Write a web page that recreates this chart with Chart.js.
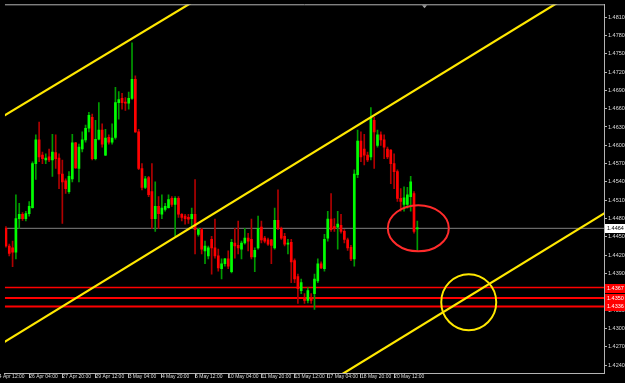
<!DOCTYPE html>
<html>
<head>
<meta charset="utf-8">
<script src="https://cdn.jsdelivr.net/npm/chart.js@4.4.1/dist/chart.umd.min.js"></script>
<style>
  html, body { margin: 0; padding: 0; background: #000; }
</style>
</head>
<body>
<canvas id="chart" width="625" height="383"></canvas>
<script>
// H4 candles, oldest first
const opens = [
  1.4464, 1.4435, 1.4432, 1.4425, 1.4480, 1.4487, 1.4480, 1.4488, 1.4498, 1.4570,
  1.4609, 1.4584, 1.4576, 1.4581, 1.4576, 1.4588, 1.4579, 1.4553, 1.4542, 1.4524,
  1.4545, 1.4604, 1.4562, 1.4594, 1.4609, 1.4628, 1.4646, 1.4578, 1.4610, 1.4625,
  1.4584, 1.4613, 1.4605, 1.4613, 1.4670, 1.4677, 1.4670, 1.4669, 1.4677, 1.4708,
  1.4622, 1.4562, 1.4531, 1.4547, 1.4524, 1.4480, 1.4500, 1.4487, 1.4495, 1.4498,
  1.4513, 1.4503, 1.4513, 1.4487, 1.4484, 1.4482, 1.4480, 1.4487, 1.4454, 1.4462,
  1.4427, 1.4419, 1.4446, 1.4432, 1.4419, 1.4398, 1.4406, 1.4414, 1.4393, 1.4440,
  1.4436, 1.4430, 1.4440, 1.4448, 1.4446, 1.4417, 1.4432, 1.4466, 1.4448, 1.4445,
  1.4445, 1.4432, 1.4477, 1.4464, 1.4451, 1.4438, 1.4441, 1.4411, 1.4385, 1.4362,
  1.4350, 1.4346, 1.4350, 1.4357, 1.4378, 1.4406, 1.4398, 1.4448, 1.4479, 1.4467,
  1.4466, 1.4469, 1.4459, 1.4445, 1.4433, 1.4414, 1.4552, 1.4607, 1.4594, 1.4584,
  1.4581, 1.4641, 1.4600, 1.4617, 1.4609, 1.4594, 1.4592, 1.4570, 1.4557, 1.4513,
  1.4503, 1.4503, 1.4516, 1.4521, 1.4463
];
const highs = [
  1.4467, 1.4438, 1.4443, 1.4519, 1.4505, 1.4490, 1.4492, 1.4508, 1.4573, 1.4617,
  1.4638, 1.4589, 1.4586, 1.4594, 1.4618, 1.4617, 1.4586, 1.4576, 1.4545, 1.4557,
  1.4618, 1.4605, 1.4602, 1.4622, 1.4633, 1.4654, 1.4651, 1.4641, 1.4670, 1.4635,
  1.4626, 1.4617, 1.4635, 1.4695, 1.4688, 1.4685, 1.4678, 1.4687, 1.4768, 1.4714,
  1.4626, 1.4570, 1.4549, 1.4549, 1.4570, 1.4540, 1.4516, 1.4519, 1.4505, 1.4519,
  1.4516, 1.4516, 1.4516, 1.4488, 1.4487, 1.4487, 1.4497, 1.4544, 1.4464, 1.4464,
  1.4443, 1.4435, 1.4451, 1.4479, 1.4430, 1.4414, 1.4415, 1.4427, 1.4446, 1.4464,
  1.4476, 1.4443, 1.4464, 1.4456, 1.4479, 1.4432, 1.4484, 1.4476, 1.4451, 1.4448,
  1.4446, 1.4497, 1.4527, 1.4466, 1.4456, 1.4446, 1.4446, 1.4414, 1.4389, 1.4381,
  1.4357, 1.4367, 1.4357, 1.4389, 1.4414, 1.4409, 1.4454, 1.4492, 1.4521, 1.4480,
  1.4492, 1.4487, 1.4462, 1.4448, 1.4436, 1.4560, 1.4625, 1.4622, 1.4618, 1.4589,
  1.4662, 1.4646, 1.4625, 1.4622, 1.4617, 1.4597, 1.4593, 1.4586, 1.4560, 1.4529,
  1.4532, 1.4531, 1.4549, 1.4524, 1.4476
];
const lows = [
  1.4433, 1.4419, 1.4401, 1.4414, 1.4464, 1.4477, 1.4476, 1.4484, 1.4497, 1.4544,
  1.4573, 1.4570, 1.4570, 1.4573, 1.4549, 1.4562, 1.4529, 1.4472, 1.4521, 1.4521,
  1.4540, 1.4562, 1.4540, 1.4589, 1.4605, 1.4622, 1.4576, 1.4576, 1.4609, 1.4597,
  1.4583, 1.4602, 1.4602, 1.4610, 1.4643, 1.4659, 1.4657, 1.4659, 1.4675, 1.4621,
  1.4560, 1.4527, 1.4529, 1.4516, 1.4464, 1.4459, 1.4464, 1.4480, 1.4492, 1.4497,
  1.4500, 1.4451, 1.4482, 1.4476, 1.4471, 1.4472, 1.4464, 1.4422, 1.4451, 1.4422,
  1.4406, 1.4414, 1.4389, 1.4415, 1.4394, 1.4381, 1.4402, 1.4398, 1.4391, 1.4415,
  1.4422, 1.4414, 1.4438, 1.4427, 1.4414, 1.4393, 1.4430, 1.4440, 1.4440, 1.4436,
  1.4406, 1.4430, 1.4462, 1.4446, 1.4435, 1.4422, 1.4375, 1.4375, 1.4341, 1.4357,
  1.4341, 1.4342, 1.4341, 1.4331, 1.4375, 1.4398, 1.4394, 1.4443, 1.4459, 1.4459,
  1.4430, 1.4456, 1.4440, 1.4428, 1.4411, 1.4402, 1.4547, 1.4573, 1.4568, 1.4573,
  1.4576, 1.4562, 1.4597, 1.4600, 1.4578, 1.4578, 1.4537, 1.4529, 1.4508, 1.4492,
  1.4492, 1.4497, 1.4492, 1.4456, 1.4427
];
const closes = [
  1.4435, 1.4423, 1.4425, 1.4480, 1.4487, 1.4480, 1.4488, 1.4500, 1.4570, 1.4609,
  1.4581, 1.4578, 1.4579, 1.4576, 1.4589, 1.4578, 1.4553, 1.4540, 1.4529, 1.4549,
  1.4604, 1.4563, 1.4597, 1.4609, 1.4628, 1.4649, 1.4578, 1.4610, 1.4625, 1.4602,
  1.4612, 1.4605, 1.4612, 1.4670, 1.4675, 1.4670, 1.4669, 1.4677, 1.4708, 1.4622,
  1.4562, 1.4531, 1.4545, 1.4519, 1.4480, 1.4500, 1.4488, 1.4497, 1.4500, 1.4511,
  1.4503, 1.4513, 1.4487, 1.4482, 1.4480, 1.4479, 1.4487, 1.4462, 1.4462, 1.4430,
  1.4435, 1.4432, 1.4432, 1.4419, 1.4399, 1.4406, 1.4414, 1.4402, 1.4441, 1.4435,
  1.4432, 1.4440, 1.4448, 1.4443, 1.4417, 1.4428, 1.4464, 1.4445, 1.4443, 1.4438,
  1.4436, 1.4477, 1.4464, 1.4448, 1.4438, 1.4440, 1.4409, 1.4381, 1.4365, 1.4375,
  1.4346, 1.4362, 1.4346, 1.4381, 1.4406, 1.4399, 1.4446, 1.4479, 1.4462, 1.4464,
  1.4471, 1.4459, 1.4446, 1.4432, 1.4414, 1.4553, 1.4607, 1.4581, 1.4584, 1.4576,
  1.4646, 1.4622, 1.4617, 1.4609, 1.4597, 1.4581, 1.4570, 1.4557, 1.4513, 1.4508,
  1.4514, 1.4519, 1.4540, 1.4459, 1.4464
];

// time axis: label text and the bar it sits on
const timeLabels = ['24 Apr 12:00', '26 Apr 04:00', '27 Apr 20:00', '29 Apr 12:00', '3 May 04:00',
  '4 May 20:00', '6 May 12:00', '10 May 04:00', '11 May 20:00', '13 May 12:00',
  '17 May 04:00', '18 May 20:00', '20 May 12:00'];
const timeBars = [-3, 7, 17, 27, 37, 47, 57, 67, 77, 87, 97, 107, 117];

const priceTicks = [1.4240, 1.4270, 1.4300, 1.4330, 1.4360, 1.4390, 1.4420, 1.4450, 1.4480, 1.4510,
  1.4540, 1.4570, 1.4600, 1.4630, 1.4660, 1.4690, 1.4720, 1.4750, 1.4780, 1.4810];

const currentPrice = 1.4464;
const levelPrices = [1.4367, 1.4350, 1.4336];

// channel lines, [bar, price] end points
const channelA = [[-1, 1.4647], [60, 1.4847]];
const channelB = [[-1, 1.4276], [170, 1.4846]];
const channelC = [[95, 1.4204], [185, 1.4504]];

// circled spots: bar, price
const marks = [
  { bar: 124.3, price: 1.4464, color: '#ff2b2b', rx: 30.5, ry: 23 },
  { bar: 139.5, price: 1.4343, color: '#ffe800', rx: 27.5, ry: 28 }
];
const shiftBar = 126;

const isUp = i => closes[i] >= opens[i];
const wickData = opens.map((_, i) => ({ x: i, y: [lows[i], highs[i]] }));
const bodyData = opens.map((_, i) => ({ x: i, y: [opens[i], closes[i]] }));

const hLine = (price, color, width, order) => ({
  type: 'line',
  data: [{ x: -5, y: price }, { x: 200, y: price }],
  borderColor: color,
  borderWidth: width,
  pointRadius: 0,
  order: order
});
const trendLine = (pts) => ({
  type: 'line',
  data: pts.map(p => ({ x: p[0], y: p[1] })),
  borderColor: '#ffe800',
  borderWidth: 2.2,
  pointRadius: 0,
  order: 1
});

const axisColor = '#b4b4b4';
const textColor = '#dcdcdc';
const yFont = { family: 'Liberation Sans', size: 5.5 };
const xFont = { family: 'Liberation Sans', size: 5 };

const overlay = {
  id: 'overlay',
  afterDraw(chart) {
    const { ctx, chartArea: a, scales: { x, y } } = chart;
    ctx.save();

    // top frame line
    ctx.strokeStyle = axisColor;
    ctx.lineWidth = 1;
    ctx.beginPath();
    ctx.moveTo(a.left, a.top + 0.5);
    ctx.lineTo(a.right, a.top + 0.5);
    ctx.stroke();

    // shift marker
    const sx = Math.round(x.getPixelForValue(shiftBar)) + 0.5;
    ctx.fillStyle = '#a0a0a0';
    ctx.beginPath();
    ctx.moveTo(sx - 2.5, a.top + 1);
    ctx.lineTo(sx + 2.5, a.top + 1);
    ctx.lineTo(sx, a.top + 4);
    ctx.closePath();
    ctx.fill();

    // circles
    marks.forEach(m => {
      ctx.beginPath();
      ctx.ellipse(x.getPixelForValue(m.bar), y.getPixelForValue(m.price), m.rx, m.ry, 0, 0, Math.PI * 2);
      ctx.strokeStyle = m.color;
      ctx.lineWidth = 2;
      ctx.stroke();
    });

    // price tags on the right scale
    ctx.font = '5.5px "Liberation Sans"';
    ctx.textBaseline = 'middle';
    const tag = (price, bg, fg) => {
      const py = Math.round(y.getPixelForValue(price));
      ctx.fillStyle = bg;
      ctx.fillRect(a.right + 1, py - 4, 625 - a.right - 1, 9);
      ctx.fillStyle = fg;
      ctx.fillText(price.toFixed(4), a.right + 3, py + 0.5);
    };
    levelPrices.forEach(p => tag(p, '#ff0000', '#ffffff'));
    tag(currentPrice, '#ffffff', '#000000');

    ctx.restore();
  }
};

new Chart(document.getElementById('chart'), {
  type: 'bar',
  data: {
    datasets: [
      {
        data: wickData,
        backgroundColor: ctx => isUp(ctx.dataIndex) ? '#009a00' : '#b00000',
        barThickness: 1,
        grouped: false,
        order: 5
      },
      {
        data: bodyData,
        backgroundColor: ctx => isUp(ctx.dataIndex) ? '#00ff00' : '#ff0000',
        barThickness: 2,
        minBarLength: 1,
        grouped: false,
        order: 4
      },
      hLine(currentPrice, '#808080', 1, 9),
      hLine(levelPrices[0], '#ff0000', 1.5, 8),
      hLine(levelPrices[1], '#ff0000', 2, 8),
      hLine(levelPrices[2], '#ff0000', 2, 8),
      trendLine(channelA),
      trendLine(channelB),
      trendLine(channelC)
    ]
  },
  options: {
    responsive: false,
    animation: false,
    events: [],
    layout: { padding: { top: 1, left: 0, right: 0, bottom: 0 } },
    plugins: { legend: { display: false }, tooltip: { enabled: false } },
    scales: {
      x: {
        type: 'linear',
        position: 'bottom',
        min: -0.3,
        max: 180.27,
        offset: false,
        afterBuildTicks: ax => { ax.ticks = timeBars.map(v => ({ value: v })); },
        afterFit: ax => { ax.height = 10; },
        ticks: {
          autoSkip: false,
          maxRotation: 0,
          minRotation: 0,
          align: 'start',
          padding: -4,
          color: textColor,
          font: xFont,
          callback: (v, k) => timeLabels[k]
        },
        grid: { drawOnChartArea: false, drawTicks: true, tickLength: 5, color: axisColor, offset: false },
        border: { color: axisColor }
      },
      y: {
        type: 'linear',
        position: 'right',
        min: 1.4227,
        max: 1.4831,
        beginAtZero: false,
        afterBuildTicks: ax => { ax.ticks = priceTicks.map(v => ({ value: v })); },
        afterFit: ax => { ax.width = 21; },
        ticks: {
          color: textColor,
          font: yFont,
          padding: 1,
          callback: v => v.toFixed(4)
        },
        grid: { drawOnChartArea: false, drawTicks: true, tickLength: 3, color: axisColor },
        border: { color: axisColor }
      }
    }
  },
  plugins: [overlay]
});
</script>
</body>
</html>
